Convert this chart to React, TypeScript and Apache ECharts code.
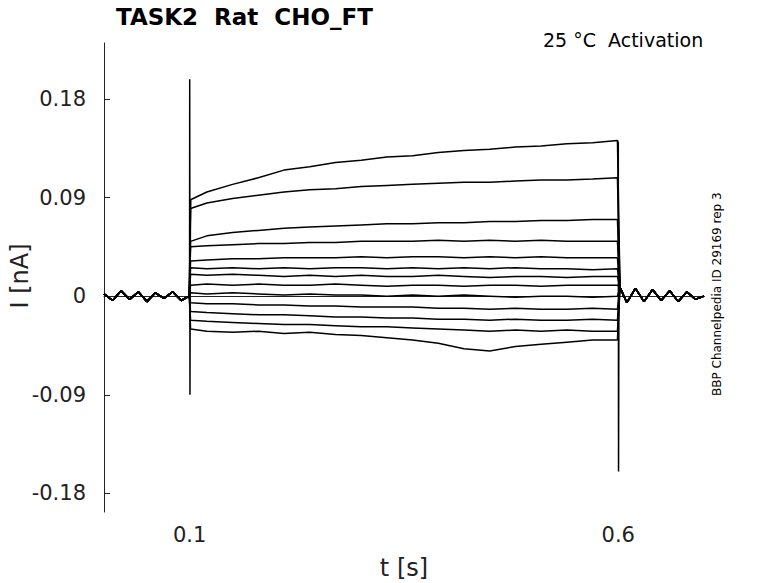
import React, { useEffect, useRef } from "react";
import * as echarts from "echarts";

const preTimes = [0, 0.01, 0.02, 0.03, 0.04, 0.05, 0.06, 0.07, 0.08, 0.09, 0.0995];
const preVals = [0.002, -0.004, 0.005, -0.003, 0.004, -0.005, 0.003, -0.002, 0.004, -0.004, 0.0];
const pulseTimes = [0.101, 0.12, 0.15, 0.18, 0.21, 0.24, 0.27, 0.3, 0.33, 0.36, 0.39, 0.42, 0.45, 0.48, 0.51, 0.54, 0.57, 0.599];
const postTimes = [0.602, 0.61, 0.62, 0.63, 0.64, 0.65, 0.66, 0.67, 0.68, 0.69, 0.7];
const postVals = [0.008, -0.006, 0.007, -0.005, 0.006, -0.004, 0.005, -0.005, 0.004, -0.003, 0.0];

const traces: number[][] = [
  [0.088, 0.095, 0.102, 0.108, 0.115, 0.118, 0.122, 0.124, 0.127, 0.128, 0.131, 0.133, 0.134, 0.136, 0.137, 0.139, 0.14, 0.142],
  [0.08, 0.085, 0.089, 0.092, 0.095, 0.097, 0.098, 0.1, 0.101, 0.102, 0.103, 0.104, 0.104, 0.105, 0.106, 0.106, 0.107, 0.108],
  [0.05, 0.055, 0.058, 0.06, 0.062, 0.063, 0.064, 0.065, 0.066, 0.066, 0.067, 0.067, 0.068, 0.068, 0.069, 0.069, 0.07, 0.07],
  [0.045, 0.046, 0.047, 0.048, 0.048, 0.049, 0.049, 0.05, 0.05, 0.05, 0.051, 0.05, 0.051, 0.05, 0.051, 0.05, 0.05, 0.05],
  [0.032, 0.033, 0.034, 0.034, 0.035, 0.035, 0.035, 0.036, 0.035, 0.036, 0.036, 0.035, 0.036, 0.035, 0.036, 0.035, 0.035, 0.035],
  [0.026, 0.025, 0.026, 0.025, 0.026, 0.025, 0.026, 0.026, 0.025, 0.026, 0.025, 0.026, 0.025, 0.026, 0.025, 0.025, 0.024, 0.025],
  [0.02, 0.019, 0.02, 0.019, 0.018, 0.019, 0.018, 0.019, 0.018, 0.018, 0.019, 0.018, 0.017, 0.018, 0.018, 0.017, 0.018, 0.018],
  [0.01, 0.011, 0.01, 0.011, 0.01, 0.01, 0.011, 0.01, 0.009, 0.01, 0.01, 0.009, 0.01, 0.01, 0.009, 0.01, 0.01, 0.01],
  [0.003, 0.002, 0.003, 0.002, 0.001, 0.002, 0.001, 0.001, 0.0, 0.001, 0.0, 0.001, 0.0, -0.001, 0.0, 0.0, -0.001, 0.0],
  [-0.006, -0.007, -0.007, -0.008, -0.008, -0.009, -0.009, -0.01, -0.01, -0.01, -0.011, -0.011, -0.012, -0.011, -0.012, -0.012, -0.011, -0.012],
  [-0.014, -0.015, -0.016, -0.017, -0.017, -0.018, -0.019, -0.019, -0.02, -0.02, -0.021, -0.021, -0.022, -0.021, -0.022, -0.022, -0.021, -0.022],
  [-0.022, -0.023, -0.024, -0.025, -0.026, -0.026, -0.027, -0.028, -0.028, -0.029, -0.03, -0.031, -0.032, -0.031, -0.032, -0.031, -0.032, -0.032],
  [-0.03, -0.032, -0.033, -0.032, -0.034, -0.033, -0.035, -0.036, -0.038, -0.04, -0.043, -0.048, -0.05, -0.046, -0.044, -0.042, -0.04, -0.04],
];

const spikeOnTimes = [0.0998, 0.1, 0.1003, 0.1006, 0.101];
const spikeOnVals = [0.0, 0.198, -0.09, 0.03, 0.088];
const spikeOffTimes = [0.599, 0.6, 0.6003, 0.6008, 0.602];
const spikeOffVals = [0.142, 0.14, -0.16, 0.02, 0.008];

const yTicks = [-0.18, -0.09, 0, 0.09, 0.18];
const xTicks = [0.1, 0.6];

export default function App() {
  const ref = useRef<HTMLDivElement>(null);
  useEffect(() => {
    document.body.style.margin = "0";
    const chart = echarts.init(ref.current!, undefined, { renderer: "svg" });
    const lineStyle = { color: "#000", width: 1.5 };
    const series: any[] = traces.map((vals) => ({
      type: "line",
      showSymbol: false,
      lineStyle,
      data: [
        ...preTimes.map((t, i) => [t, preVals[i]]),
        ...pulseTimes.map((t, i) => [t, vals[i]]),
        ...postTimes.map((t, i) => [t, postVals[i]]),
      ],
    }));
    series.push({ type: "line", showSymbol: false, lineStyle, data: spikeOnTimes.map((t, i) => [t, spikeOnVals[i]]) });
    series.push({ type: "line", showSymbol: false, lineStyle, data: spikeOffTimes.map((t, i) => [t, spikeOffVals[i]]) });
    const font = "DejaVu Sans";
    chart.setOption({
      animation: false,
      grid: { left: 104, right: 74, top: 43, bottom: 71, outerBoundsMode: "none", containLabel: false },
      graphic: [
        { type: "text", left: 116, top: 5, style: { text: "TASK2  Rat  CHO_FT", font: `bold 23px "${font}"`, fill: "#000" } },
        { type: "text", left: 543, top: 30, style: { text: "25 °C  Activation", font: `19px "${font}"`, fill: "#000" } },
        {
          type: "text",
          x: 20,
          y: 276,
          rotation: Math.PI / 2,
          style: { text: "I [nA]", font: `24px "${font}"`, fill: "#222", align: "center", verticalAlign: "middle" },
        },
        {
          type: "text",
          x: 711,
          y: 396,
          rotation: Math.PI / 2,
          style: { text: "BBP Channelpedia ID 29169 rep 3", font: `12px "${font}"`, fill: "#000" },
        },
      ],
      xAxis: {
        type: "value",
        min: 0,
        max: 0.7,
        name: "t [s]",
        nameLocation: "middle",
        nameGap: 44,
        nameTextStyle: { fontFamily: font, fontSize: 24, color: "#222" },
        splitLine: { show: false },
        axisLine: { lineStyle: { color: "#222" } },
        axisTick: { inside: true, length: 6, customValues: xTicks, lineStyle: { color: "#222" } },
        axisLabel: { customValues: xTicks, fontFamily: font, fontSize: 21, color: "#222", margin: 12 },
      },
      yAxis: {
        type: "value",
        min: -0.197,
        max: 0.231,
        splitLine: { show: false },
        axisLine: { show: true, lineStyle: { color: "#222" } },
        axisTick: { show: true, inside: true, length: 6, customValues: yTicks, lineStyle: { color: "#222" } },
        axisLabel: {
          customValues: yTicks,
          fontFamily: font,
          fontSize: 21,
          color: "#222",
          margin: 18,
          formatter: (v: number) => (Math.abs(v) < 1e-9 ? "0" : String(Number(v.toFixed(2)))),
        },
      },
      series,
    });
    return () => chart.dispose();
  }, []);
  return <div ref={ref} style={{ width: 778, height: 583 }} />;
}
